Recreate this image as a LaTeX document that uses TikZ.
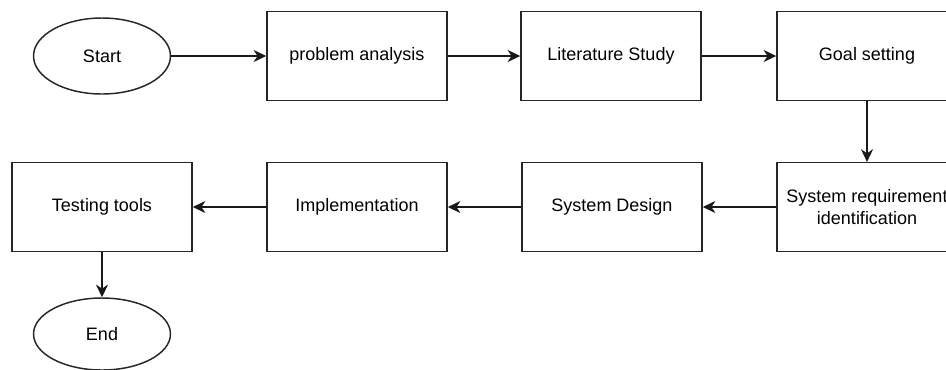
\documentclass[tikz,border=0pt]{standalone}
\usepackage{fontspec}
\setmainfont{Liberation Sans}
\usetikzlibrary{shapes.geometric,arrows.meta}
\begin{document}
\begin{tikzpicture}[x=0.75pt,y=-0.75pt,
  every node/.style={font=\fontsize{13.5pt}{16pt}\selectfont, text=black},
  procbox/.style={draw=black!85, line width=1.1pt, rectangle, minimum width=135pt, minimum height=66.5pt, inner sep=0pt, align=center},
  termnode/.style={draw=black!85, line width=1.1pt, ellipse, minimum width=102.75pt, minimum height=57pt, inner sep=0pt},
  flow/.style={draw=black!90, line width=1.1pt, -{Stealth[length=9.5pt,width=9pt,inset=3pt]}}]
\useasboundingbox (0,0) rectangle (946,369);
\node[termnode] (start) at (102,56) {Start};
\node[procbox] (pa) at (357,56) {problem analysis};
\node[procbox] (ls) at (611,56) {Literature Study};
\node[procbox] (gs) at (867,56) {Goal setting};
\node[procbox] (sr) at (867,207) {System requirement\\identification};
\node[procbox] (sd) at (612,207) {System Design};
\node[procbox] (im) at (357,207) {Implementation};
\node[procbox] (tt) at (102,207) {Testing tools};
\node[termnode, minimum height=54pt] (end) at (102,334) {End};
\draw[flow] (start) -- (pa);
\draw[flow] (pa) -- (ls);
\draw[flow] (ls) -- (gs);
\draw[flow] (gs) -- (sr);
\draw[flow] (sr) -- (sd);
\draw[flow] (sd) -- (im);
\draw[flow] (im) -- (tt);
\draw[flow] (tt) -- (end);
\end{tikzpicture}
\end{document}
